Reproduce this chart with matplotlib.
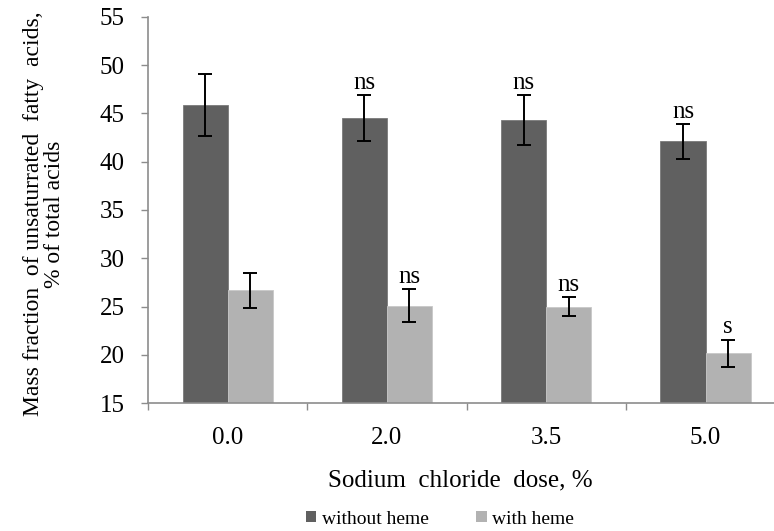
import matplotlib
matplotlib.use("Agg")
import matplotlib.pyplot as plt
import numpy as np
from matplotlib.patches import Rectangle

categories = ["0.0", "2.0", "3.5", "5.0"]
without_heme = [45.9, 44.5, 44.3, 42.1]
without_heme_err = [3.2, 2.4, 2.55, 1.8]
with_heme = [26.7, 25.1, 25.0, 20.2]
with_heme_err = [1.8, 1.7, 0.95, 1.4]
without_labels = ["", "ns", "ns", "ns"]
with_labels = ["", "ns", "ns", "s"]
yticks = [15, 20, 25, 30, 35, 40, 45, 50, 55]

plt.rcParams['font.family'] = ['Liberation Serif', 'DejaVu Serif']

W, H = 774, 531
fig = plt.figure(figsize=(W / 100, H / 100), dpi=100)
ax = fig.add_axes([148 / W, 1 - 403.3 / H, (W - 148) / W, (403.3 - 16.7) / H])

dark = "#606060"
light = "#b2b2b2"
axis_col = "#8c8c8c"
x = np.arange(len(categories))
bw = 0.283

ax.bar(x - bw / 2, without_heme, bw, color=dark, edgecolor="#7a7a7a", linewidth=0.6, zorder=2)
ax.bar(x + bw / 2, with_heme, bw, color=light, edgecolor="#c8c8c8", linewidth=0.6, zorder=2)
ax.errorbar(x - bw / 2, without_heme, yerr=without_heme_err, fmt='none', ecolor='black',
            elinewidth=1.4, capsize=4.8, capthick=1.4, zorder=3)
ax.errorbar(x + bw / 2, with_heme, yerr=with_heme_err, fmt='none', ecolor='black',
            elinewidth=1.4, capsize=4.8, capthick=1.4, zorder=3)

for xi, v, e, lab in zip(x - bw / 2, without_heme, without_heme_err, without_labels):
    if lab:
        ax.annotate(lab, (xi, v + e), xytext=(0, 1), textcoords='offset points',
                    ha='center', va='bottom', fontsize=18)
for xi, v, e, lab in zip(x + bw / 2, with_heme, with_heme_err, with_labels):
    if lab:
        ax.annotate(lab, (xi, v + e), xytext=(0, 1), textcoords='offset points',
                    ha='center', va='bottom', fontsize=18)

ax.set_ylim(15, 55)
ax.set_yticks(yticks)
ax.set_yticklabels([str(t) for t in yticks], fontsize=18)
ax.set_xlim(-0.5, 3.43)
ax.set_xticks(x)
ax.set_xticklabels(categories, fontsize=18)
ax.set_xticks([-0.5, 0.5, 1.5, 2.5], minor=True)
ax.tick_params(axis='x', which='major', length=0, pad=17)
ax.tick_params(axis='x', which='minor', length=5, width=1, color=axis_col)
ax.tick_params(axis='y', length=5, width=1, color=axis_col, pad=12)

for s in ['top', 'right']:
    ax.spines[s].set_visible(False)
for s in ['left', 'bottom']:
    ax.spines[s].set_color(axis_col)
    ax.spines[s].set_linewidth(1.2)

fig.text(460 / W, 1 - 480 / H, "Sodium  chloride  dose, %", ha='center', va='center', fontsize=18)
fig.text(44 / W, 1 - 214 / H, "Mass fraction  of unsaturrated  fatty  acids,\n% of total acids",
         ha='center', va='center', rotation=90, fontsize=17, multialignment='center',
         linespacing=1.05)

handles = [Rectangle((0, 0), 1, 1, facecolor=dark, edgecolor='none'),
           Rectangle((0, 0), 1, 1, facecolor=light, edgecolor='none')]
fig.legend(handles, ["without heme", "with heme"], loc='center',
           bbox_to_anchor=(440 / W, 1 - 519 / H), ncol=2, frameon=False,
           fontsize=14, handlelength=0.55, handleheight=0.55, handletextpad=0.3,
           columnspacing=2.4, borderpad=0)

fig.savefig("out.png", dpi=100)
